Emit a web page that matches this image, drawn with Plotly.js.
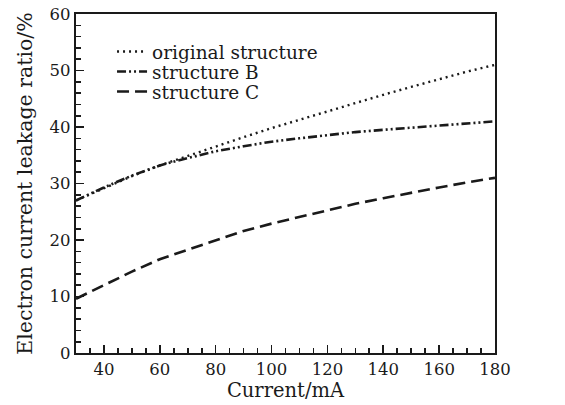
<!DOCTYPE html>
<html><head><meta charset="utf-8">
<script src="https://cdn.plot.ly/plotly-3.0.1.min.js"></script>
<style>body{margin:0;background:#fff}#c{width:565px;height:405px}</style>
</head><body><div id="c"></div>
<script>
var current = [30,40,50,60,70,80,90,100,110,120,130,140,150,160,170,180];
var originalStructure = [27.0,29.2,31.3,33.2,34.9,36.6,38.2,39.8,41.3,42.8,44.2,45.7,47.1,48.5,49.8,51.0];
var structureB = [27.0,29.3,31.4,33.2,34.5,35.7,36.6,37.4,38.0,38.6,39.1,39.5,39.9,40.3,40.7,41.0];
var structureC = [9.6,12.0,14.4,16.6,18.3,20.0,21.6,22.9,24.1,25.3,26.4,27.4,28.4,29.3,30.2,31.0];
var names = ["original structure","structure B","structure C"];

var font = "DejaVu Serif, serif";
var col = "#1a1a1a";
var traces = [
  {x: current, y: originalStructure, name: names[0], mode: "lines", legend: "legend", line: {color: col, width: 2.4, dash: "2px,4px"}},
  {x: current, y: structureB, name: names[1], mode: "lines", legend: "legend2", line: {color: col, width: 2.6, dash: "9px,3px,2px,3px,2px,3px"}},
  {x: current, y: structureC, name: names[2], mode: "lines", legend: "legend3", line: {color: col, width: 2.6, dash: "12px,6px"}}
];
function leg(yc) {
  return {x: 0.086, y: yc, xanchor: "left", yanchor: "middle", bgcolor: "rgba(0,0,0,0)",
          font: {size: 18.5, family: font, color: col}, borderwidth: 0};
}
var layout = {
  width: 565, height: 405,
  margin: {l: 76, r: 70, t: 14, b: 52},
  paper_bgcolor: "#fff", plot_bgcolor: "#fff",
  font: {family: font, size: 16, color: col},
  showlegend: true,
  legend: leg(0.888), legend2: leg(0.829), legend3: leg(0.770),
  xaxis: {
    range: [30, 180], tick0: 40, dtick: 20, ticks: "inside", ticklen: 8, tickwidth: 1.6, tickcolor: col,
    showline: true, linewidth: 2.2, linecolor: col, mirror: true, showgrid: false, zeroline: false,
    minor: {dtick: 5, tick0: 30, ticks: "inside", ticklen: 5, tickwidth: 1.6, tickcolor: col, showgrid: false},
    title: {text: "Current/mA", font: {size: 19.5, family: font, color: col}, standoff: 4},
    tickfont: {size: 16.5, family: font, color: col}
  },
  yaxis: {
    range: [0, 60], dtick: 10, ticks: "inside", ticklen: 8, tickwidth: 1.6, tickcolor: col,
    showline: true, linewidth: 2.2, linecolor: col, mirror: true, showgrid: false, zeroline: false,
    minor: {dtick: 2, ticks: "inside", ticklen: 5, tickwidth: 1.6, tickcolor: col, showgrid: false},
    title: {text: "Electron current leakage ratio/%", font: {size: 20.5, family: font, color: col}, standoff: 11},
    tickfont: {size: 16.5, family: font, color: col}
  }
};
Plotly.newPlot("c", traces, layout, {displayModeBar: false, staticPlot: true});
</script></body></html>
